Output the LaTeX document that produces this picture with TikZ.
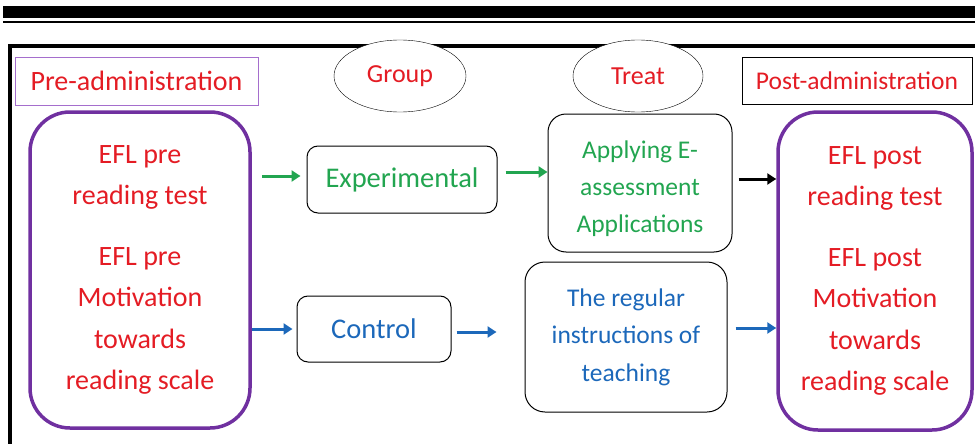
\documentclass[tikz,border=0pt]{standalone}
\usepackage{fontspec}
\setmainfont{Carlito}
\usepackage{tikz}
\usetikzlibrary{positioning,shapes,calc,arrows.meta}

\definecolor{txtred}{RGB}{228,28,36}
\definecolor{txtgreen}{RGB}{34,165,80}
\definecolor{txtblue}{RGB}{28,104,186}
\definecolor{boxpurple}{RGB}{112,48,160}
\definecolor{lightpurple}{RGB}{165,110,205}

\tikzset{
  headbox/.style={draw, rectangle, fill=white, text=txtred, inner sep=0pt},
  headoval/.style={draw, ellipse, fill=white, text=txtred, inner sep=0pt, font=\fontsize{26}{30}\selectfont},
  bigbox/.style={draw=boxpurple, line width=3.5pt, rounded corners=40pt, text=txtred, align=center, inner sep=0pt, font=\fontsize{28}{41.5}\selectfont},
  stepbox/.style={draw, line width=1pt, rounded corners=11pt, align=center, inner sep=0pt},
  garrow/.style={-{Triangle[length=9pt,width=11pt]}, line width=3pt, txtgreen},
  barrow/.style={-{Triangle[length=9pt,width=11pt]}, line width=3pt, txtblue},
  karrow/.style={-{Triangle[length=9pt,width=11pt]}, line width=3pt, black}
}

\begin{document}
\begin{tikzpicture}[x=1pt, y=-1pt]
\useasboundingbox (0,0) rectangle (975,444);
% page rules and frame
\fill (3,6) rectangle (975,18);
\fill (3,21) rectangle (975,23.5);
\draw[line width=3.5pt] (10,444) -- (10,46) -- (975,46);

% headings
\node[headbox, draw=lightpurple, minimum width=243pt, minimum height=48pt, font=\fontsize{28}{32}\selectfont] (pre) at (136.5,81) {Pre-administration};
\node[headoval, minimum width=132pt, minimum height=72pt] (group) at (400,76) {Group};
\node[headoval, minimum width=130pt, minimum height=72pt] (treat) at (638,76) {Treat};
\node[headbox, line width=1pt, minimum width=230pt, minimum height=46pt, font=\fontsize{25.5}{30}\selectfont] (post) at (857,81) {Post-administration};

% measures before and after
\node[bigbox, minimum width=220pt, minimum height=316pt] (before) at (140,270)
  {EFL pre\\reading test\\[19pt]EFL pre\\Motivation\\towards\\reading scale};
\node[bigbox, minimum width=194pt, minimum height=318pt] (after) at (875,271)
  {EFL post\\reading test\\[19pt]EFL post\\Motivation\\towards\\reading scale};

% groups and treatments
\node[stepbox, text=txtgreen, minimum width=190pt, minimum height=67pt, font=\fontsize{28.5}{32}\selectfont] (exp) at (402,179.5) {Experimental};
\node[stepbox, text=txtblue, minimum width=154pt, minimum height=66pt, font=\fontsize{28.5}{32}\selectfont] (ctrl) at (374,329) {Control};
\node[stepbox, text=txtgreen, rounded corners=18pt, minimum width=184pt, minimum height=138pt, font=\fontsize{25.5}{37}\selectfont] (apply) at (640,183)
  {\rule{0pt}{30pt}Applying E-\\assessment\\Applications};
\node[stepbox, text=txtblue, rounded corners=20pt, minimum width=202pt, minimum height=150pt, font=\fontsize{25.5}{37.5}\selectfont] (regular) at (626,337)
  {The regular\\instructions of\\teaching};

% arrows
\draw[garrow] ([xshift=10pt,yshift=3.5pt]before.east |- exp.west) -- ([xshift=-6pt,yshift=3.5pt]exp.west);
\draw[garrow] ([xshift=8pt,yshift=7.5pt]exp.east) -- ([yshift=7.5pt]exp.east -| apply.west);
\draw[karrow] ([xshift=6pt,yshift=4pt]apply.east) -- ([yshift=4pt]apply.east -| after.west);
\draw[barrow] (before.east |- ctrl.west) -- ([xshift=-4pt]ctrl.west);
\draw[barrow] ([xshift=5pt,yshift=-3pt]ctrl.east) -- ([xshift=-28pt,yshift=-3pt]ctrl.east -| regular.west);
\draw[barrow] ([xshift=8pt,yshift=9pt]regular.east) -- ([yshift=9pt]regular.east -| after.west);
\end{tikzpicture}
\end{document}
